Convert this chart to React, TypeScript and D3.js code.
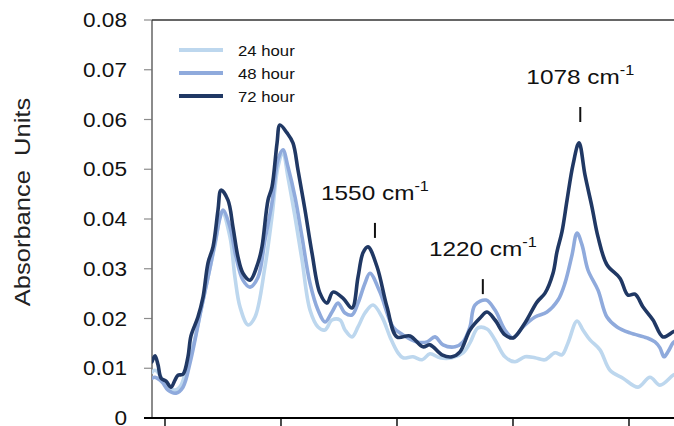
import React from "react";
import * as d3 from "d3";

// Spectra: [position along the wavenumber axis (tick units of 100), absorbance]
const absorbance24h: [number, number][] = [
  [-11.2, 0.0092], [-8.6, 0.0096], [-4.3, 0.0086], [0, 0.0066], [4.3, 0.006], [8.6, 0.0056],
  [13.8, 0.0066], [18.1, 0.0096], [21.6, 0.0121], [25.9, 0.0161], [31.0, 0.0217], [37.1, 0.0283],
  [43.1, 0.0348], [49.1, 0.0414], [56.0, 0.0364], [60.3, 0.0283], [64.7, 0.0223], [71.6, 0.0187],
  [77.6, 0.0203], [86.2, 0.0304], [92.2, 0.0404], [97.4, 0.0505], [101.7, 0.0533], [106.0, 0.0484],
  [112.1, 0.0404], [118.1, 0.0318], [125.0, 0.0217], [131.9, 0.0183], [137.9, 0.0177], [144.0, 0.0197],
  [150.9, 0.0197], [155.2, 0.0177], [161.2, 0.0163], [166.4, 0.0183], [172.4, 0.0211], [179.3, 0.0227],
  [187.1, 0.0203], [194.0, 0.0163], [200.9, 0.0131], [205.2, 0.0121], [213.8, 0.0123], [221.6, 0.0117],
  [228.4, 0.0129], [237.1, 0.0121], [247.4, 0.0121], [256.9, 0.0131], [262.9, 0.0151], [269.8, 0.0181],
  [277.6, 0.0179], [284.5, 0.0157], [293.1, 0.0123], [301.7, 0.0113], [310.3, 0.0123], [319.0, 0.0121],
  [327.6, 0.0117], [336.2, 0.0131], [342.2, 0.0127], [347.4, 0.0151], [355.2, 0.0195], [360.3, 0.0177],
  [366.4, 0.0157], [375.0, 0.0137], [383.6, 0.0096], [394.8, 0.008], [407.8, 0.0062], [418.1, 0.0082],
  [426.7, 0.0066], [437.9, 0.0086], [440.0, 0.0088],
];

const absorbance48h: [number, number][] = [
  [-11.2, 0.008], [-8.6, 0.0082], [-4.3, 0.0076], [-1.7, 0.007], [2.6, 0.0056], [9.5, 0.005],
  [15.5, 0.0062], [21.6, 0.0111], [25.9, 0.0157], [31.0, 0.0217], [37.1, 0.0283], [43.1, 0.0352],
  [47.4, 0.0402], [50.0, 0.0418], [56.0, 0.0384], [61.2, 0.0324], [67.2, 0.0277], [73.3, 0.0263],
  [80.2, 0.0283], [86.2, 0.0358], [92.2, 0.0432], [97.4, 0.0519], [101.7, 0.0539], [106.0, 0.0505],
  [112.1, 0.0444], [118.1, 0.0364], [125.0, 0.0271], [131.9, 0.0217], [137.9, 0.0193], [144.0, 0.0213],
  [149.1, 0.0231], [155.2, 0.0211], [161.2, 0.0207], [166.4, 0.0231], [172.4, 0.0271], [176.7, 0.0291],
  [185.3, 0.0253], [196.6, 0.0183], [205.2, 0.0167], [217.2, 0.0153], [225.9, 0.0153], [232.8, 0.0163],
  [239.7, 0.0147], [250.0, 0.0143], [256.9, 0.0153], [262.9, 0.0183], [267.2, 0.0227], [276.7, 0.0237],
  [284.5, 0.0217], [293.1, 0.0177], [300.0, 0.0161], [308.6, 0.0183], [319.0, 0.0203], [329.3, 0.0213],
  [338.8, 0.0237], [344.8, 0.0271], [350.9, 0.0328], [355.2, 0.0372], [359.5, 0.0348], [364.7, 0.0297],
  [373.3, 0.0257], [381.0, 0.0203], [389.7, 0.0183], [400.9, 0.0171], [415.5, 0.0161], [422.4, 0.0153],
  [426.7, 0.0141], [430.2, 0.0123], [433.6, 0.0133], [437.9, 0.0151], [440.0, 0.0155],
];

const absorbance72h: [number, number][] = [
  [-11.2, 0.0113], [-8.6, 0.0125], [-6.0, 0.0107], [-3.4, 0.008], [0.9, 0.0074], [5.2, 0.0062],
  [8.6, 0.0076], [11.2, 0.0086], [15.5, 0.0088], [19.8, 0.0123], [22.4, 0.0165], [28.4, 0.0203],
  [32.8, 0.0243], [37.1, 0.0312], [41.4, 0.0344], [45.7, 0.0418], [48.3, 0.0458], [54.3, 0.0438],
  [58.6, 0.0384], [62.9, 0.0324], [67.2, 0.0291], [73.3, 0.0277], [80.2, 0.0312], [83.6, 0.0344],
  [88.8, 0.0438], [92.2, 0.0464], [96.6, 0.0553], [99.1, 0.0589], [105.2, 0.0573], [110.3, 0.0553],
  [114.7, 0.0498], [120.7, 0.0418], [126.7, 0.0332], [133.6, 0.0251], [139.7, 0.0231], [144.8, 0.0253],
  [153.4, 0.0241], [161.2, 0.0221], [166.4, 0.0283], [170.7, 0.0332], [175.0, 0.0344], [182.8, 0.0304],
  [191.4, 0.0223], [200.0, 0.0163], [211.2, 0.0165], [222.4, 0.0143], [228.4, 0.0147], [238.8, 0.0127],
  [247.4, 0.0123], [254.3, 0.0133], [262.9, 0.0177], [271.6, 0.0201], [277.6, 0.0213], [284.5, 0.0197],
  [293.1, 0.0167], [300.0, 0.0161], [310.3, 0.0191], [320.7, 0.0233], [327.6, 0.0251], [334.5, 0.0291],
  [337.9, 0.0334], [342.2, 0.0374], [346.6, 0.0438], [351.7, 0.0509], [356.9, 0.0553], [362.1, 0.0488],
  [368.1, 0.0424], [373.3, 0.0364], [381.0, 0.0308], [392.2, 0.0281], [399.1, 0.0247], [405.2, 0.0249],
  [412.1, 0.0223], [420.7, 0.0197], [429.3, 0.0163], [437.9, 0.0173], [440.0, 0.0175],
];

const seriesNames = ["24 hour", "48 hour", "72 hour"];
const seriesColors = ["#bdd7ee", "#8faadc", "#203864"];
const seriesData = [absorbance24h, absorbance48h, absorbance72h];

const yTicks = [0, 0.01, 0.02, 0.03, 0.04, 0.05, 0.06, 0.07, 0.08];
const xTicks = [0, 100, 200, 300, 400];

// Band assignments: label, position, absorbance at the foot of the marker bar
const bandLabels = ["1550", "1220", "1078"];
const bandX = [181, 274, 358];
const bandMarkY = [0.0362, 0.0249, 0.0595];

const W = 674;
const H = 426;
const plotLeft = 152;
const plotTop = 20;
const plotBottom = 418;
const font = "'Liberation Sans', Arial, sans-serif";
const stretch = "scale(1.16,1)";

export default function App() {
  const x = d3.scaleLinear().domain([-11.2, 438.8]).range([plotLeft, W]);
  const y = d3.scaleLinear().domain([0, 0.08]).range([plotBottom, plotTop]);
  const line = d3
    .line<[number, number]>()
    .x((d) => x(d[0]))
    .y((d) => y(d[1]))
    .curve(d3.curveCatmullRom.alpha(0.5));
  const fmt = (v: number) => (v === 0 ? "0" : d3.format(".2f")(v));

  return (
    <svg
      width={W}
      height={H}
      style={{ position: "absolute", left: 0, top: 0, background: "#fff" }}
      fontFamily={font}
    >
      <defs>
        <clipPath id="plot-clip">
          <rect x={plotLeft} y={0} width={W - plotLeft} height={plotBottom} />
        </clipPath>
      </defs>

      {/* y axis title */}
      <text
        transform={`translate(30, 202) rotate(-90) ${stretch}`}
        textAnchor="middle"
        fontSize={22}
        fill="#222"
        style={{ whiteSpace: "pre" }}
      >
        {"Absorbance  Units"}
      </text>

      {/* y ticks and labels */}
      {yTicks.map((t) => (
        <g key={t}>
          <line x1={plotLeft - 8} x2={plotLeft} y1={y(t)} y2={y(t)} stroke="#8c8c8c" strokeWidth={1.2} />
          <text
            transform={`translate(127, ${y(t)}) ${stretch}`}
            textAnchor="end"
            dy="0.36em"
            fontSize={19.5}
            fill="#111"
          >
            {fmt(t)}
          </text>
        </g>
      ))}

      {/* frame: left axis and top border */}
      <line x1={plotLeft} x2={plotLeft} y1={plotTop} y2={plotBottom} stroke="#6e6e6e" strokeWidth={1.6} />
      <line x1={plotLeft} x2={W} y1={plotTop} y2={plotTop} stroke="#333" strokeWidth={1.6} />

      {/* spectra */}
      <g clipPath="url(#plot-clip)">
        {seriesData.map((s, i) => (
          <path
            key={seriesNames[i]}
            d={line(s) ?? ""}
            fill="none"
            stroke={seriesColors[i]}
            strokeWidth={3.6}
            strokeLinejoin="round"
            strokeLinecap="round"
          />
        ))}
      </g>

      {/* x axis */}
      <line x1={plotLeft - 8} x2={W} y1={plotBottom} y2={plotBottom} stroke="#000" strokeWidth={2} />
      {xTicks.map((t) => (
        <line key={t} x1={x(t)} x2={x(t)} y1={plotBottom} y2={H} stroke="#000" strokeWidth={1.4} />
      ))}

      {/* band annotations */}
      {bandLabels.map((lab, i) => {
        const bx = x(bandX[i]);
        const by = y(bandMarkY[i]);
        return (
          <g key={lab}>
            <line x1={bx} x2={bx} y1={by} y2={by - 15} stroke="#111" strokeWidth={2} />
            <text
              transform={`translate(${bx}, ${by - 38}) ${stretch}`}
              textAnchor="middle"
              fontSize={21}
              fill="#111"
            >
              {lab} cm
              <tspan fontSize={14} dy={-9}>
                -1
              </tspan>
            </text>
          </g>
        );
      })}

      {/* legend */}
      {seriesNames.map((name, i) => {
        const ly = 50 + i * 23;
        return (
          <g key={name}>
            <line x1={179} x2={223} y1={ly} y2={ly} stroke={seriesColors[i]} strokeWidth={3.8} />
            <text transform={`translate(238, ${ly}) scale(1.08,1)`} dy="0.36em" fontSize={15.5} fill="#111">
              {name}
            </text>
          </g>
        );
      })}
    </svg>
  );
}
